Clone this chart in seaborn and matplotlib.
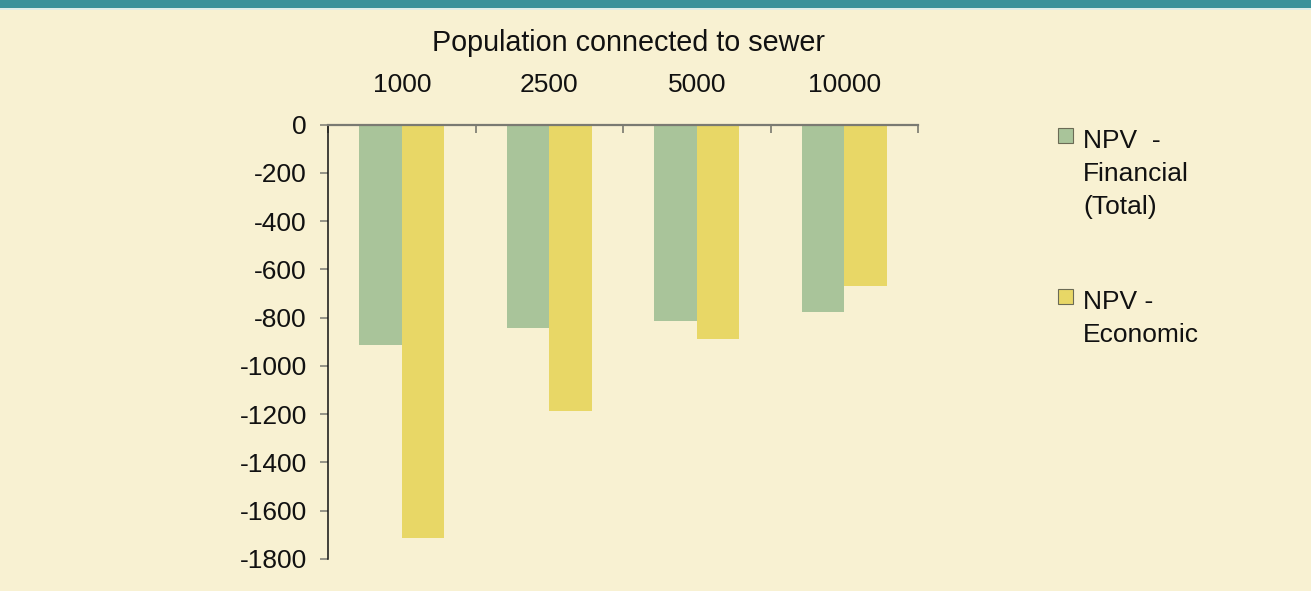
import numpy as np
import pandas as pd
import matplotlib
matplotlib.use("Agg")
import matplotlib.pyplot as plt
from matplotlib.patches import Rectangle
from matplotlib.ticker import FixedLocator
import seaborn as sns

# ---- data ----
populations = ["1000", "2500", "5000", "10000"]
series_names = ["NPV  -\nFinancial\n(Total)", "NPV -\nEconomic"]
npv_financial = [-915, -845, -815, -775]
npv_economic = [-1715, -1185, -890, -670]
y_ticks = [0, -200, -400, -600, -800, -1000, -1200, -1400, -1600, -1800]
y_tick_labels = ["0", "-200", "-400", "-600", "-800", "-1000", "-1200", "-1400", "-1600", "-1800"]
x_title = "Population connected to sewer"

# ---- style ----
BG = "#F8F1D2"
TEAL = "#3A9299"
GREEN = "#A9C49A"
YELLOW = "#E8D766"
palette = [GREEN, YELLOW]

sns.set_theme(style="white")
plt.rcParams["font.family"] = ["Liberation Sans", "DejaVu Sans"]
plt.rcParams["axes.unicode_minus"] = False

df = pd.DataFrame({
    "population": populations * 2,
    "npv": npv_financial + npv_economic,
    "series": [series_names[0]] * len(populations) + [series_names[1]] * len(populations),
})

W, H = 1311, 591
AX_L, AX_R, AX_T, AX_B = 328, 918, 124.5, 559
fig = plt.figure(figsize=(W / 100, H / 100), dpi=100, facecolor=BG)
ax = fig.add_axes([AX_L / W, 1 - AX_B / H, (AX_R - AX_L) / W, (AX_B - AX_T) / H])
ax.set_facecolor(BG)

sns.barplot(data=df, x="population", y="npv", hue="series", order=populations,
            hue_order=series_names, palette=palette, width=0.576, saturation=1,
            linewidth=0, legend=False, ax=ax)

ax.set_ylim(-1800, 0)
ax.set_xlim(-0.5, len(populations) - 0.5)
ax.set_ylabel("")

# y axis
ax.yaxis.set_major_locator(FixedLocator(y_ticks))
ax.set_yticklabels(y_tick_labels)
ax.tick_params(axis="y", which="major", left=True, direction="out", length=5.8,
               width=1.1, color="#7a7a72", pad=9.5, labelsize=19, labelcolor="#111111")

# x axis on top
ax.xaxis.tick_top()
ax.xaxis.set_label_position("top")
ax.set_xlabel(x_title, fontsize=20.7, color="#111111")
ax.xaxis.set_label_coords((629 - AX_L) / (AX_R - AX_L), (AX_B - 51) / (AX_B - AX_T))
ax.tick_params(axis="x", which="major", top=True, bottom=False, length=0, pad=20,
               labelsize=19, labelcolor="#111111")
ax.xaxis.set_minor_locator(FixedLocator(np.arange(len(populations) + 1) - 0.5))
ax.tick_params(axis="x", which="minor", top=True, bottom=False, direction="in",
               length=5.8, width=1.1, color="#6e6e66")

for s in ["right", "bottom"]:
    ax.spines[s].set_visible(False)
ax.spines["top"].set_color("#7a7a72")
ax.spines["top"].set_linewidth(1.6)
ax.spines["left"].set_color("#111111")
ax.spines["left"].set_linewidth(1.1)
ax.grid(False)

# top teal band
fig.patches.append(Rectangle((0, 1 - 8 / H), 1, 8 / H, transform=fig.transFigure,
                             facecolor=TEAL, edgecolor="none", zorder=5))
fig.patches.append(Rectangle((0, 1 - 10 / H), 1, 2 / H, transform=fig.transFigure,
                             facecolor="#DDEDE6", edgecolor="none", zorder=5))

# legend (handle aligned with first text line)
legend_tops = [128, 289]
for name, col, top in zip(series_names, palette, legend_tops):
    fig.patches.append(Rectangle((1058 / W, 1 - (top + 15) / H), 15 / W, 15 / H,
                                 transform=fig.transFigure, facecolor=col,
                                 edgecolor="#6b6b55", linewidth=0.8))
    fig.text(1083 / W, 1 - (top + 1) / H, name, fontsize=19, color="#111111",
             va="top", ha="left", linespacing=1.48)

fig.savefig("out.png", dpi=100, facecolor=BG)
